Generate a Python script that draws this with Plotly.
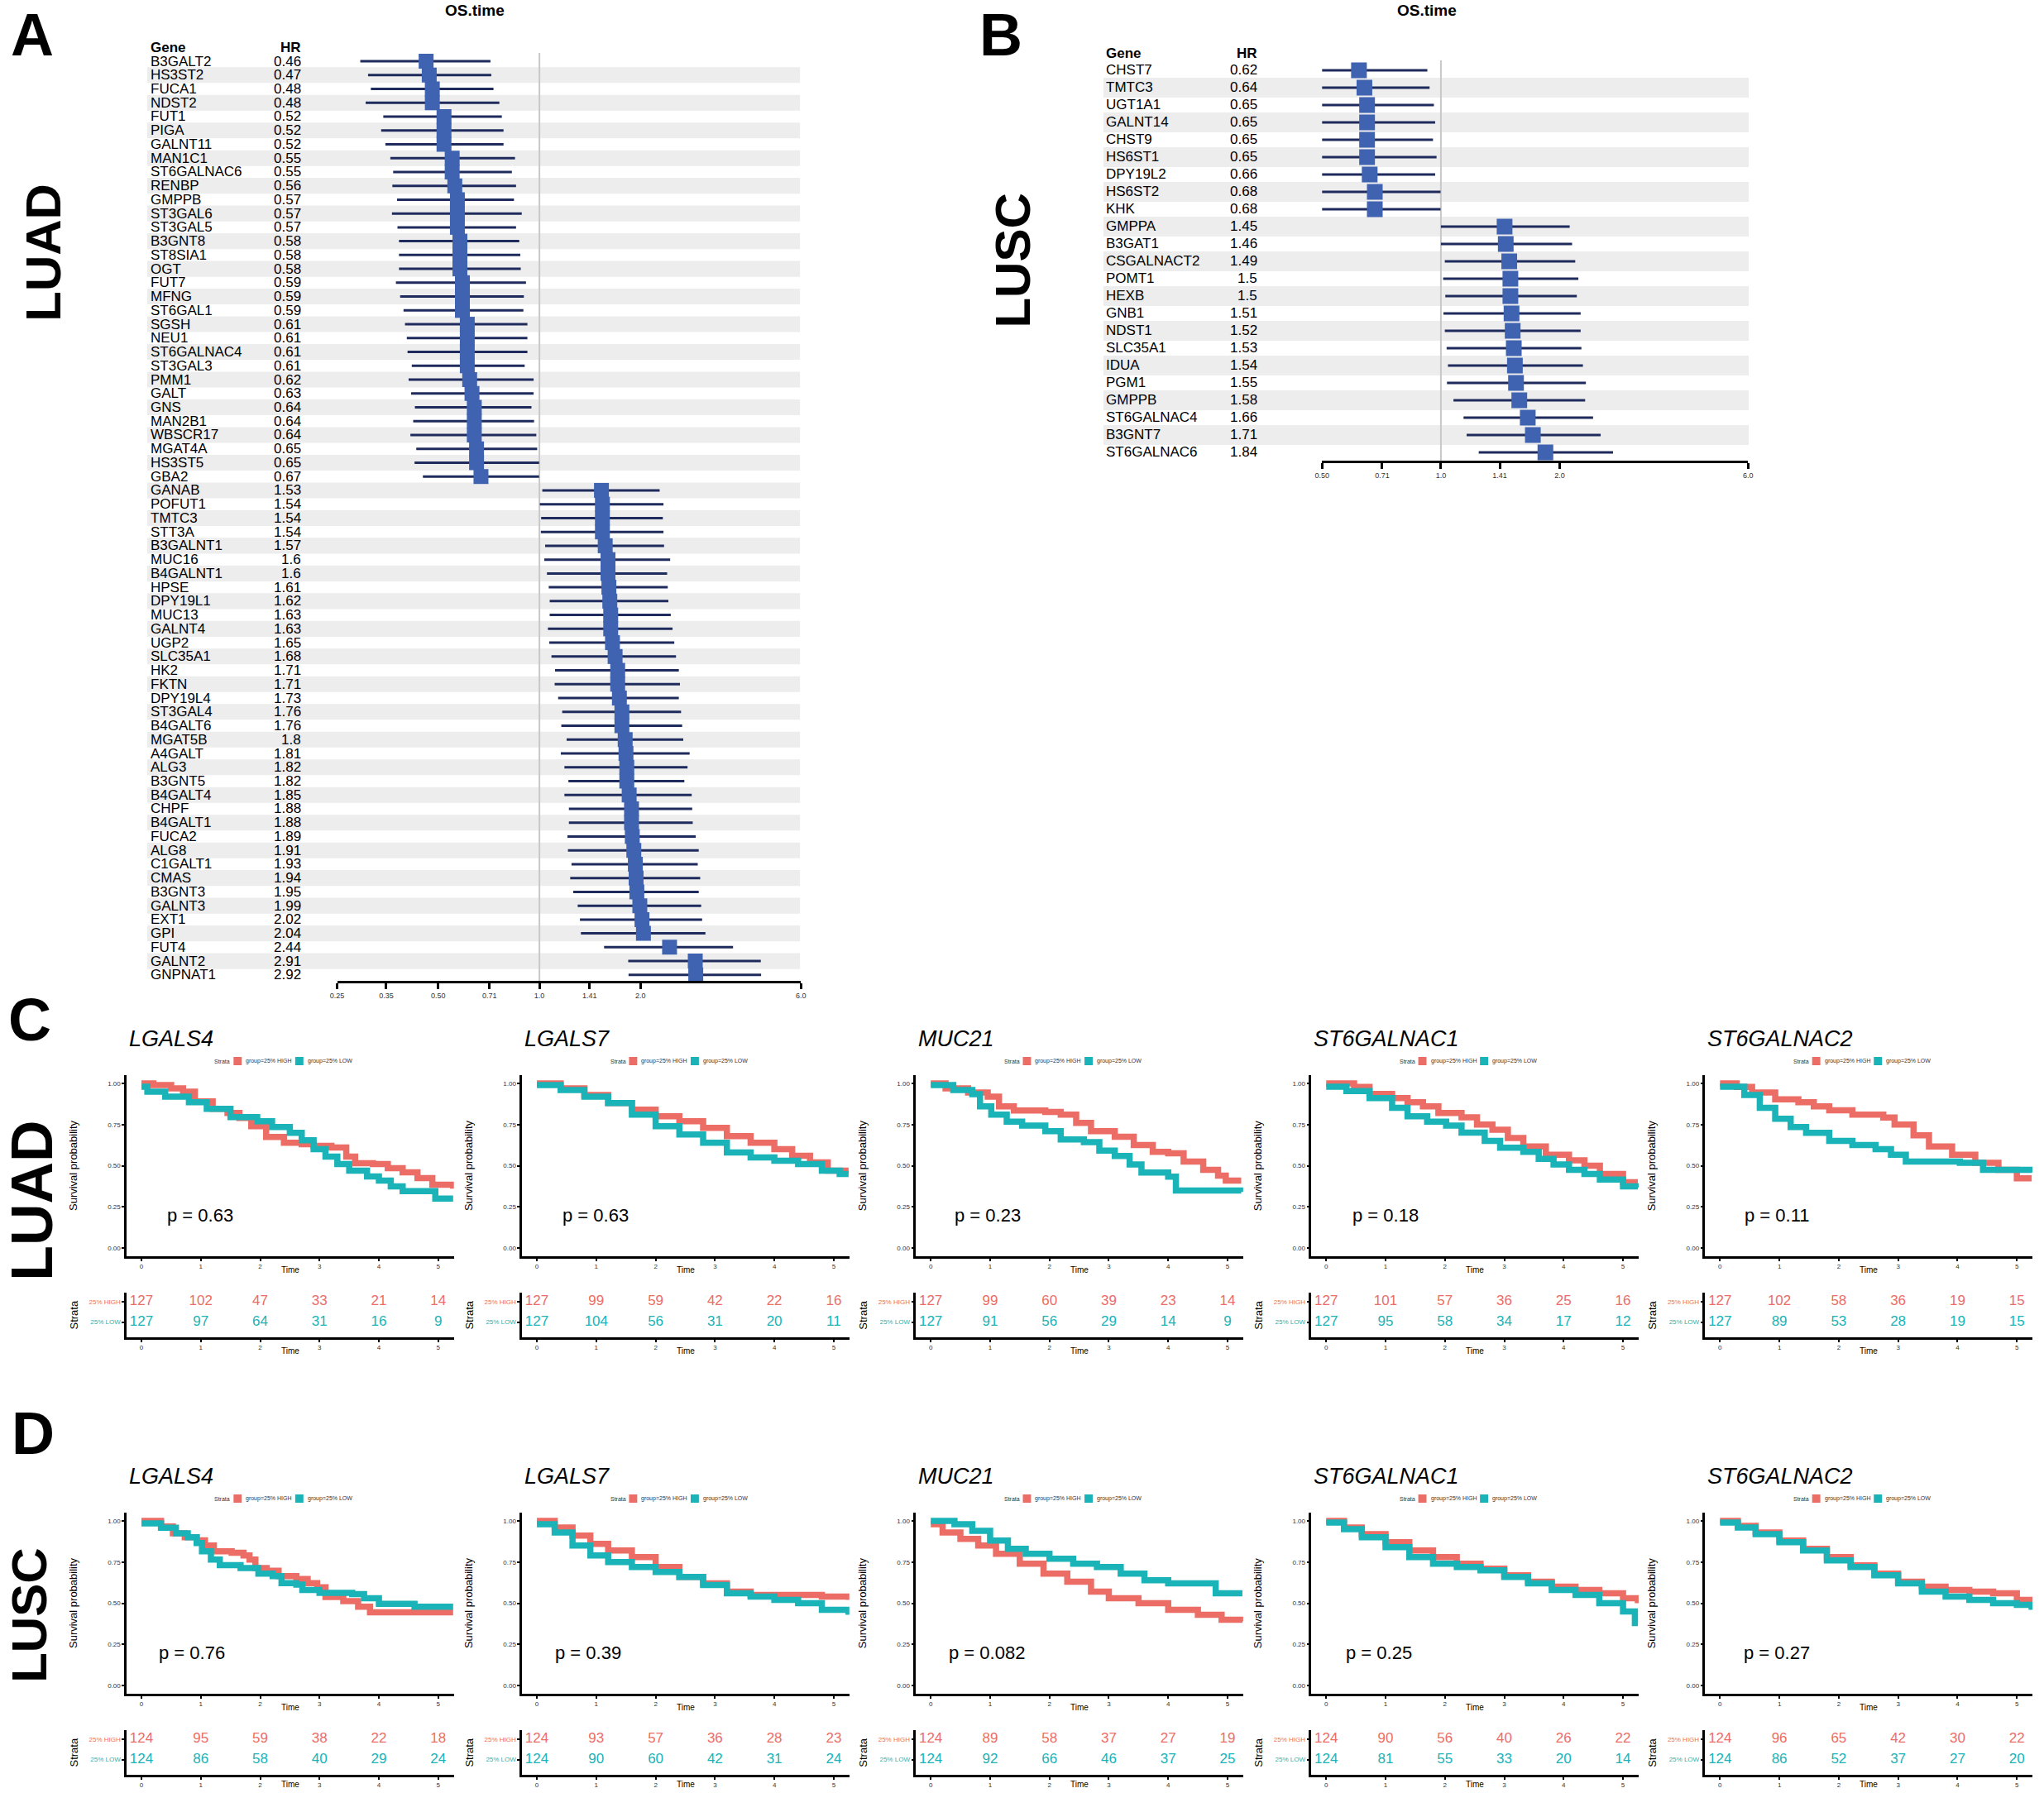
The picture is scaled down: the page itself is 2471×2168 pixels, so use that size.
import math
import plotly.graph_objects as go

W, H = 2471, 2168
RED = "#EC6D65"
TEAL = "#19B3B8"
NAVY = "#1E2B5C"
BOX = "#3F63B0"
BAND = "#EDEDED"
FONT = "Liberation Sans, Arial, sans-serif"

# ---------------- A : LUAD forest ----------------
luad_genes = ["B3GALT2", "HS3ST2", "FUCA1", "NDST2", "FUT1", "PIGA", "GALNT11", "MAN1C1",
              "ST6GALNAC6", "RENBP", "GMPPB", "ST3GAL6", "ST3GAL5", "B3GNT8", "ST8SIA1", "OGT",
              "FUT7", "MFNG", "ST6GAL1", "SGSH", "NEU1", "ST6GALNAC4", "ST3GAL3", "PMM1", "GALT",
              "GNS", "MAN2B1", "WBSCR17", "MGAT4A", "HS3ST5", "GBA2",
              "GANAB", "POFUT1", "TMTC3", "STT3A", "B3GALNT1", "MUC16", "B4GALNT1", "HPSE",
              "DPY19L1", "MUC13", "GALNT4", "UGP2", "SLC35A1", "HK2", "FKTN", "DPY19L4", "ST3GAL4",
              "B4GALT6", "MGAT5B", "A4GALT", "ALG3", "B3GNT5", "B4GALT4", "CHPF", "B4GALT1", "FUCA2",
              "ALG8", "C1GALT1", "CMAS", "B3GNT3", "GALNT3", "EXT1", "GPI", "FUT4", "GALNT2", "GNPNAT1"]
luad_hr = [0.46, 0.47, 0.48, 0.48, 0.52, 0.52, 0.52, 0.55, 0.55, 0.56, 0.57, 0.57, 0.57, 0.58, 0.58,
           0.58, 0.59, 0.59, 0.59, 0.61, 0.61, 0.61, 0.61, 0.62, 0.63, 0.64, 0.64, 0.64, 0.65, 0.65, 0.67,
           1.53, 1.54, 1.54, 1.54, 1.57, 1.6, 1.6, 1.61, 1.62, 1.63, 1.63, 1.65, 1.68, 1.71, 1.71, 1.73,
           1.76, 1.76, 1.8, 1.81, 1.82, 1.82, 1.85, 1.88, 1.88, 1.89, 1.91, 1.93, 1.94, 1.95, 1.99, 2.02,
           2.04, 2.44, 2.91, 2.92]
luad_lo = [0.293, 0.309, 0.315, 0.304, 0.343, 0.338, 0.348, 0.360, 0.367, 0.365, 0.377, 0.364, 0.378,
           0.382, 0.382, 0.382, 0.374, 0.385, 0.394, 0.398, 0.403, 0.405, 0.417, 0.408, 0.415, 0.426,
           0.421, 0.413, 0.430, 0.425, 0.450,
           1.02, 1.003, 1.012, 1.01, 1.04, 1.034, 1.053, 1.066, 1.073, 1.073, 1.06, 1.07, 1.086, 1.113,
           1.11, 1.137, 1.169, 1.162, 1.205, 1.158, 1.187, 1.22, 1.187, 1.224, 1.224, 1.212, 1.216,
           1.246, 1.235, 1.261, 1.30, 1.32, 1.329, 1.558, 1.838, 1.842]
luad_hi = [0.715, 0.719, 0.730, 0.760, 0.773, 0.782, 0.782, 0.846, 0.828, 0.852, 0.840, 0.886, 0.852,
           0.871, 0.877, 0.880, 0.912, 0.899, 0.896, 0.921, 0.921, 0.921, 0.904, 0.961, 0.961, 0.947,
           0.964, 0.979, 0.985, 0.998, 0.998,
           2.28, 2.34, 2.33, 2.34, 2.35, 2.45, 2.40, 2.41, 2.42, 2.46, 2.49, 2.52, 2.55, 2.60, 2.62,
           2.60, 2.64, 2.66, 2.68, 2.80, 2.76, 2.70, 2.84, 2.85, 2.86, 2.92, 2.98, 2.96, 3.01, 2.98,
           3.03, 3.05, 3.12, 3.77, 4.56, 4.57]
luad_ticks = [0.25, 0.35, 0.50, 0.71, 1.0, 1.41, 2.0, 6.0]
luad_ticktext = ["0.25", "0.35", "0.50", "0.71", "1.0", "1.41", "2.0", "6.0"]

# ---------------- B : LUSC forest ----------------
lusc_genes = ["CHST7", "TMTC3", "UGT1A1", "GALNT14", "CHST9", "HS6ST1", "DPY19L2", "HS6ST2", "KHK",
              "GMPPA", "B3GAT1", "CSGALNACT2", "POMT1", "HEXB", "GNB1", "NDST1", "SLC35A1", "IDUA",
              "PGM1", "GMPPB", "ST6GALNAC4", "B3GNT7", "ST6GALNAC6"]
lusc_hr = [0.62, 0.64, 0.65, 0.65, 0.65, 0.65, 0.66, 0.68, 0.68, 1.45, 1.46, 1.49, 1.5, 1.5, 1.51,
           1.52, 1.53, 1.54, 1.55, 1.58, 1.66, 1.71, 1.84]
lusc_lo = [0.422, 0.438, 0.434, 0.436, 0.446, 0.438, 0.452, 0.456, 0.466, 1.0, 1.0, 1.023, 1.013,
           1.026, 1.015, 1.023, 1.034, 1.042, 1.036, 1.076, 1.141, 1.162, 1.247]
lusc_hi = [0.924, 0.936, 0.960, 0.967, 0.955, 0.975, 0.967, 0.998, 0.998, 2.12, 2.15, 2.19, 2.23,
           2.21, 2.26, 2.26, 2.27, 2.29, 2.33, 2.32, 2.43, 2.54, 2.73]
lusc_ticks = [0.50, 0.71, 1.0, 1.41, 2.0, 6.0]
lusc_ticktext = ["0.50", "0.71", "1.0", "1.41", "2.0", "6.0"]

# ---------------- C / D : Kaplan-Meier ----------------
km_genes = ["LGALS4", "LGALS7", "MUC21", "ST6GALNAC1", "ST6GALNAC2"]
risk_times = [0, 1, 2, 3, 4, 5]

luad_pvals = ["0.63", "0.63", "0.23", "0.18", "0.11"]
luad_pval_x = [0.41, 0.41, 0.37, 0.41, 0.39]
luad_risk_high = [[127, 102, 47, 33, 21, 14], [127, 99, 59, 42, 22, 16], [127, 99, 60, 39, 23, 14],
                  [127, 101, 57, 36, 25, 16], [127, 102, 58, 36, 19, 15]]
luad_risk_low = [[127, 97, 64, 31, 16, 9], [127, 104, 56, 31, 20, 11], [127, 91, 56, 29, 14, 9],
                 [127, 95, 58, 34, 17, 12], [127, 89, 53, 28, 19, 15]]
luad_high_t = [
    [0, 0.2, 0.5, 0.7, 0.9, 1.2, 1.45, 1.65, 1.85, 2.1, 2.4, 2.7, 2.9, 3.2, 3.45, 3.6, 3.9, 4.15, 4.4, 4.65, 4.9, 5.25],
    [0, 0.4, 0.8, 1.2, 1.6, 2.0, 2.4, 2.8, 3.2, 3.6, 4.0, 4.3, 4.6, 4.9, 5.25],
    [0, 0.25, 0.63, 0.96, 1.15, 1.4, 1.93, 2.19, 2.45, 2.7, 3.1, 3.42, 3.74, 4.0, 4.26, 4.59, 4.84, 4.97, 5.23],
    [0, 0.47, 0.73, 1.11, 1.37, 1.63, 1.89, 2.28, 2.54, 2.8, 3.06, 3.32, 3.7, 4.09, 4.35, 4.61, 5.0, 5.25],
    [0, 0.28, 0.54, 0.93, 1.32, 1.58, 1.84, 2.23, 2.75, 2.94, 3.26, 3.52, 3.91, 4.3, 4.69, 5.0, 5.25]]
luad_high_s = [
    [1.0, 0.99, 0.97, 0.95, 0.89, 0.845, 0.82, 0.79, 0.74, 0.675, 0.64, 0.63, 0.62, 0.61, 0.555, 0.515, 0.51, 0.485, 0.46, 0.425, 0.385, 0.36],
    [1.0, 0.97, 0.93, 0.88, 0.84, 0.80, 0.77, 0.73, 0.68, 0.64, 0.60, 0.56, 0.52, 0.47, 0.47],
    [1.0, 0.97, 0.945, 0.92, 0.86, 0.835, 0.827, 0.81, 0.76, 0.71, 0.676, 0.626, 0.584, 0.575, 0.525, 0.475, 0.44, 0.41, 0.41],
    [1.0, 0.978, 0.936, 0.91, 0.886, 0.86, 0.82, 0.794, 0.75, 0.718, 0.668, 0.617, 0.567, 0.533, 0.5, 0.45, 0.40, 0.40],
    [1.0, 0.978, 0.945, 0.903, 0.886, 0.86, 0.836, 0.81, 0.793, 0.75, 0.685, 0.617, 0.567, 0.517, 0.475, 0.424, 0.424]]
luad_low_t = [
    [0, 0.1, 0.4, 0.8, 1.1, 1.5, 1.95, 2.2, 2.5, 2.7, 2.9, 3.1, 3.3, 3.5, 3.8, 4.0, 4.2, 4.4, 4.95, 5.25],
    [0, 0.4, 0.8, 1.2, 1.6, 2.0, 2.4, 2.8, 3.2, 3.6, 4.0, 4.4, 4.8, 5.1, 5.25],
    [0, 0.38, 0.7, 0.83, 1.02, 1.28, 1.54, 1.93, 2.19, 2.58, 2.84, 3.1, 3.35, 3.55, 4.0, 4.13, 5.23],
    [0, 0.34, 0.73, 1.11, 1.37, 1.7, 2.02, 2.28, 2.67, 2.93, 3.32, 3.58, 3.83, 4.09, 4.35, 4.61, 5.0, 5.25],
    [0, 0.41, 0.67, 0.93, 1.19, 1.45, 1.84, 2.23, 2.62, 2.88, 3.13, 4.04, 4.43, 5.25]]
luad_low_s = [
    [0.98, 0.95, 0.92, 0.885, 0.845, 0.795, 0.77, 0.735, 0.70, 0.655, 0.60, 0.555, 0.51, 0.47, 0.435, 0.41, 0.375, 0.345, 0.30, 0.30],
    [0.99, 0.96, 0.92, 0.88, 0.81, 0.74, 0.69, 0.64, 0.58, 0.55, 0.53, 0.51, 0.47, 0.45, 0.45],
    [0.99, 0.96, 0.935, 0.86, 0.81, 0.768, 0.743, 0.71, 0.66, 0.643, 0.592, 0.559, 0.508, 0.458, 0.433, 0.349, 0.34],
    [0.98, 0.953, 0.911, 0.852, 0.80, 0.768, 0.743, 0.701, 0.651, 0.609, 0.584, 0.542, 0.508, 0.475, 0.45, 0.416, 0.374, 0.366],
    [0.98, 0.93, 0.852, 0.785, 0.735, 0.70, 0.651, 0.626, 0.60, 0.567, 0.525, 0.517, 0.475, 0.458]]

lusc_pvals = ["0.76", "0.39", "0.082", "0.25", "0.27"]
lusc_pval_x = [0.26, 0.28, 0.28, 0.30, 0.37]
lusc_risk_high = [[124, 95, 59, 38, 22, 18], [124, 93, 57, 36, 28, 23], [124, 89, 58, 37, 27, 19],
                  [124, 90, 56, 40, 26, 22], [124, 96, 65, 42, 30, 22]]
lusc_risk_low = [[124, 86, 58, 40, 29, 24], [124, 90, 60, 42, 31, 24], [124, 92, 66, 46, 37, 25],
                 [124, 81, 55, 33, 20, 14], [124, 86, 52, 37, 27, 20]]
lusc_high_t = [
    [0, 0.33, 0.53, 0.73, 0.93, 1.07, 1.22, 1.52, 1.72, 1.82, 1.92, 2.11, 2.31, 2.61, 2.8, 2.96, 3.1, 3.4, 3.65, 3.85, 5.25],
    [0, 0.3, 0.6, 0.9, 1.2, 1.6, 2.0, 2.4, 2.8, 3.2, 3.6, 4.4, 4.8, 5.25],
    [0, 0.2, 0.5, 0.8, 1.1, 1.5, 1.9, 2.3, 2.7, 3.0, 3.5, 4.0, 4.5, 4.9, 5.25],
    [0, 0.3, 0.6, 1.0, 1.4, 1.8, 2.2, 2.6, 3.0, 3.4, 3.8, 4.2, 4.6, 5.0, 5.25],
    [0, 0.3, 0.6, 1.0, 1.4, 1.8, 2.2, 2.6, 3.0, 3.4, 3.8, 4.2, 4.6, 5.0, 5.25]]
lusc_high_s = [
    [1.0, 0.966, 0.924, 0.9, 0.882, 0.85, 0.815, 0.807, 0.79, 0.765, 0.714, 0.697, 0.664, 0.647, 0.622, 0.597, 0.538, 0.513, 0.479, 0.445, 0.445],
    [1.0, 0.96, 0.91, 0.86, 0.82, 0.78, 0.72, 0.66, 0.62, 0.57, 0.55, 0.55, 0.54, 0.52],
    [0.98, 0.93, 0.89, 0.85, 0.80, 0.74, 0.68, 0.63, 0.57, 0.53, 0.50, 0.46, 0.43, 0.40, 0.39],
    [1.0, 0.96, 0.92, 0.87, 0.82, 0.78, 0.74, 0.71, 0.67, 0.63, 0.60, 0.58, 0.56, 0.53, 0.50],
    [1.0, 0.97, 0.93, 0.88, 0.83, 0.78, 0.73, 0.68, 0.63, 0.60, 0.58, 0.57, 0.56, 0.52, 0.47]]
lusc_low_t = [
    [0, 0.33, 0.58, 0.78, 0.93, 1.02, 1.17, 1.32, 1.67, 1.97, 2.21, 2.36, 2.61, 2.71, 3.0, 3.55, 3.75, 4.0, 4.6, 5.25],
    [0, 0.3, 0.6, 0.9, 1.2, 1.6, 2.0, 2.4, 2.8, 3.2, 3.6, 4.0, 4.4, 4.8, 5.25],
    [0, 0.4, 0.7, 1.0, 1.3, 1.6, 2.0, 2.4, 2.8, 3.2, 3.6, 4.0, 4.6, 4.8, 5.25],
    [0, 0.3, 0.6, 1.0, 1.4, 1.8, 2.2, 2.6, 3.0, 3.4, 3.8, 4.2, 4.6, 5.0, 5.2, 5.25],
    [0, 0.3, 0.6, 1.0, 1.4, 1.8, 2.2, 2.6, 3.0, 3.4, 3.8, 4.2, 4.6, 5.0, 5.25]]
lusc_low_s = [
    [0.985, 0.958, 0.924, 0.9, 0.866, 0.815, 0.765, 0.731, 0.714, 0.68, 0.664, 0.622, 0.613, 0.58, 0.563, 0.555, 0.53, 0.496, 0.479, 0.479],
    [0.98, 0.93, 0.85, 0.79, 0.75, 0.72, 0.69, 0.66, 0.61, 0.56, 0.54, 0.52, 0.50, 0.46, 0.43],
    [1.0, 0.98, 0.94, 0.88, 0.83, 0.80, 0.77, 0.74, 0.72, 0.68, 0.64, 0.62, 0.62, 0.56, 0.56],
    [0.99, 0.95, 0.90, 0.84, 0.78, 0.74, 0.72, 0.70, 0.66, 0.62, 0.58, 0.55, 0.50, 0.45, 0.38, 0.38],
    [0.99, 0.96, 0.92, 0.87, 0.82, 0.76, 0.72, 0.67, 0.62, 0.57, 0.54, 0.52, 0.50, 0.49, 0.46]]


def fx(px):
    return px / W


def fy(py):
    return 1 - py / H


fig = go.Figure()
layout = dict(width=W, height=H, margin=dict(l=0, r=0, t=0, b=0), paper_bgcolor="white",
              plot_bgcolor="rgba(0,0,0,0)", showlegend=False,
              font=dict(family=FONT, color="black"))
shapes = []
ann = []


def text(x, y, s, size, **kw):
    d = dict(x=x, y=y, text=s, showarrow=False, font=dict(size=size, family=FONT, color=kw.pop("color", "black")),
             xref=kw.pop("xref", "paper"), yref=kw.pop("yref", "paper"))
    d.update(kw)
    ann.append(d)


def forest(k, genes, hr, lo, hi, ticks, ticktext, ax0, ax1, row0, rowh, gene_x, hr_x,
           band0, band1, line_top, axis_y, title_x, box):
    top = (line_top - row0) / rowh
    bottom = (axis_y - row0) / rowh
    rows = list(range(len(genes)))
    layout[f"xaxis{k}"] = dict(type="log", domain=[fx(ax0), fx(ax1)],
                               range=[math.log10(ticks[0]), math.log10(ticks[-1])],
                               anchor=f"y{k}", tickvals=ticks, ticktext=ticktext, showgrid=False,
                               zeroline=False, showline=True, linewidth=3, linecolor="black",
                               ticks="outside", ticklen=7, tickwidth=3, tickcolor="black",
                               tickfont=dict(size=9, color="#333333"))
    layout[f"yaxis{k}"] = dict(domain=[fy(axis_y), fy(line_top)], range=[bottom, top],
                               visible=False, anchor=f"x{k}")
    for i in rows:
        if i % 2 == 1:
            shapes.append(dict(type="rect", xref="paper", yref=f"y{k}", x0=fx(band0), x1=fx(band1),
                               y0=i - 0.57, y1=i + 0.57, fillcolor=BAND, line=dict(width=0), layer="below"))
        text(fx(gene_x), i, genes[i], 17, yref=f"y{k}", xanchor="left", yanchor="middle")
        text(fx(hr_x), i, f"{hr[i]:g}", 17, yref=f"y{k}", xanchor="right", yanchor="middle")
    # header row sits one row above the first gene
    text(fx(gene_x), fy(row0 - rowh), "<b>Gene</b>", 17, xanchor="left", yanchor="middle")
    text(fx(hr_x), fy(row0 - rowh), "<b>HR</b>", 17, xanchor="right", yanchor="middle")
    text(fx(title_x), 1, "<b>OS.time</b>", 19, xanchor="center", yanchor="top")
    shapes.append(dict(type="line", xref=f"x{k}", yref=f"y{k}", x0=1, x1=1, y0=top, y1=bottom,
                       line=dict(color="#C8C8C8", width=2), layer="below"))
    fig.add_trace(go.Scatter(
        x=hr, y=rows, mode="markers", xaxis=f"x{k}", yaxis=f"y{k}",
        marker=dict(symbol="square", size=box, color=BOX),
        error_x=dict(type="data", symmetric=False,
                     array=[h - v for h, v in zip(hi, hr)],
                     arrayminus=[v - l for v, l in zip(hr, lo)],
                     thickness=3, width=0, color=NAVY)))


forest(1, luad_genes, luad_hr, luad_lo, luad_hi, luad_ticks, luad_ticktext,
       401, 965, 74, 16.74, 172, 359, 170, 964, 64, 1186, 568, 18)
forest(2, lusc_genes, lusc_hr, lusc_lo, lusc_hi, lusc_ticks, lusc_ticktext,
       1599, 2117, 85, 21.0, 1334, 1522, 1333, 2118, 73, 557, 1726, 19)

# big panel letters and cohort labels
text(fx(2), 1, "<b>A</b>", 72, xanchor="left", yanchor="top")
text(fx(1180), 1, "<b>B</b>", 72, xanchor="left", yanchor="top")
text(fx(27), fy(1233), "<b>C</b>", 72, xanchor="center", yanchor="middle")
text(fx(31), fy(1733), "<b>D</b>", 72, xanchor="center", yanchor="middle")
for lx, ly, s, fs in [(44, 305, "LUAD", 60), (1222, 315, "LUSC", 60),
                      (30, 1452, "LUAD", 70), (26, 1953, "LUSC", 60)]:
    text(fx(lx), fy(ly), f"<b>{s}</b>", fs, xanchor="center", yanchor="middle", textangle=-90)

col_x0 = [145, 626, 1105, 1586, 2065]
PW = 398
XR = [-0.249, 5.263]


def km_panel(k, kt, x0, dy, gene, ht, hs, lt, ls, pval, pval_x, rhigh, rlow):
    ptop, pbot = 1300 + dy, 1519 + dy
    ttop, tbot = 1563 + dy, 1617 + dy
    axis_common = dict(showgrid=False, zeroline=False, showline=True, linewidth=2.5,
                       linecolor="black", ticks="outside", ticklen=3, tickwidth=1.5,
                       tickcolor="black", tickfont=dict(size=8, color="#333333"))
    layout[f"xaxis{k}"] = dict(domain=[fx(x0), fx(x0 + PW)], range=XR, anchor=f"y{k}",
                               tickvals=risk_times, **axis_common)
    layout[f"yaxis{k}"] = dict(domain=[fy(pbot), fy(ptop)], range=[-0.05, 1.05], anchor=f"x{k}",
                               tickvals=[0, 0.25, 0.5, 0.75, 1.0],
                               ticktext=["0.00", "0.25", "0.50", "0.75", "1.00"], **axis_common)
    layout[f"xaxis{kt}"] = dict(domain=[fx(x0), fx(x0 + PW)], range=XR, anchor=f"y{kt}",
                                tickvals=risk_times, **axis_common)
    layout[f"yaxis{kt}"] = dict(domain=[fy(tbot), fy(ttop)], range=[0.25, 2.45], anchor=f"x{kt}",
                                tickvals=[1, 2],
                                ticktext=[f"<span style='color:{TEAL}'>25% LOW</span>",
                                          f"<span style='color:{RED}'>25% HIGH</span>"],
                                **axis_common)
    fig.add_trace(go.Scatter(x=ht, y=hs, mode="lines", xaxis=f"x{k}", yaxis=f"y{k}",
                             line=dict(color=RED, width=7.5, shape="hv")))
    fig.add_trace(go.Scatter(x=lt, y=ls, mode="lines", xaxis=f"x{k}", yaxis=f"y{k}",
                             line=dict(color=TEAL, width=7.5, shape="hv")))
    fig.add_trace(go.Scatter(x=risk_times, y=[2] * len(risk_times), mode="text",
                             text=[str(v) for v in rhigh], xaxis=f"x{kt}", yaxis=f"y{kt}",
                             textfont=dict(size=17, color=RED, family=FONT)))
    fig.add_trace(go.Scatter(x=risk_times, y=[1] * len(risk_times), mode="text",
                             text=[str(v) for v in rlow], xaxis=f"x{kt}", yaxis=f"y{kt}",
                             textfont=dict(size=17, color=TEAL, family=FONT)))
    # titles / labels
    text(fx(x0 + 1), fy(1256 + dy), f"<i>{gene}</i>", 27, xanchor="left", yanchor="middle")
    text(pval_x, 0.2, f"p = {pval}", 22, xref=f"x{k}", yref=f"y{k}", xanchor="left", yanchor="middle")
    text(fx(x0 + 199), fy(1535 + dy), "Time", 10, xanchor="center", yanchor="middle")
    text(fx(x0 + 199), fy(min(1633 + dy, 2157)), "Time", 10, xanchor="center", yanchor="middle")
    text(fx(x0 - 65), fy((ptop + pbot) / 2), "Survival probability", 13, xanchor="center",
         yanchor="middle", textangle=-90)
    text(fx(x0 - 65), fy((ttop + tbot) / 2), "Strata", 13, xanchor="center", yanchor="middle",
         textangle=-90)
    # legend
    ly = 1283 + dy
    text(fx(x0 + 105), fy(ly), "Strata", 7, xanchor="left", yanchor="middle", color="#333333")
    for kx, col, lab in [(x0 + 130, RED, "group=25% HIGH"), (x0 + 205, TEAL, "group=25% LOW")]:
        shapes.append(dict(type="rect", xref="paper", yref="paper", x0=fx(kx), x1=fx(kx + 10),
                           y0=fy(ly + 5), y1=fy(ly - 5), fillcolor=col, line=dict(width=0)))
        text(fx(kx + 13), fy(ly), lab, 7, xanchor="left", yanchor="middle", color="#333333")


k = 3
for c in range(5):
    km_panel(k, k + 10, col_x0[c], 0, km_genes[c], luad_high_t[c], luad_high_s[c],
             luad_low_t[c], luad_low_s[c], luad_pvals[c], luad_pval_x[c],
             luad_risk_high[c], luad_risk_low[c])
    k += 1
for c in range(5):
    km_panel(k, k + 10, col_x0[c], 529, km_genes[c], lusc_high_t[c], lusc_high_s[c],
             lusc_low_t[c], lusc_low_s[c], lusc_pvals[c], lusc_pval_x[c],
             lusc_risk_high[c], lusc_risk_low[c])
    k += 1

layout["shapes"] = shapes
layout["annotations"] = ann
fig.update_layout(**layout)
fig.write_html("out.html", config={"displayModeBar": False},
               post_script="document.body.style.margin='0px';")
